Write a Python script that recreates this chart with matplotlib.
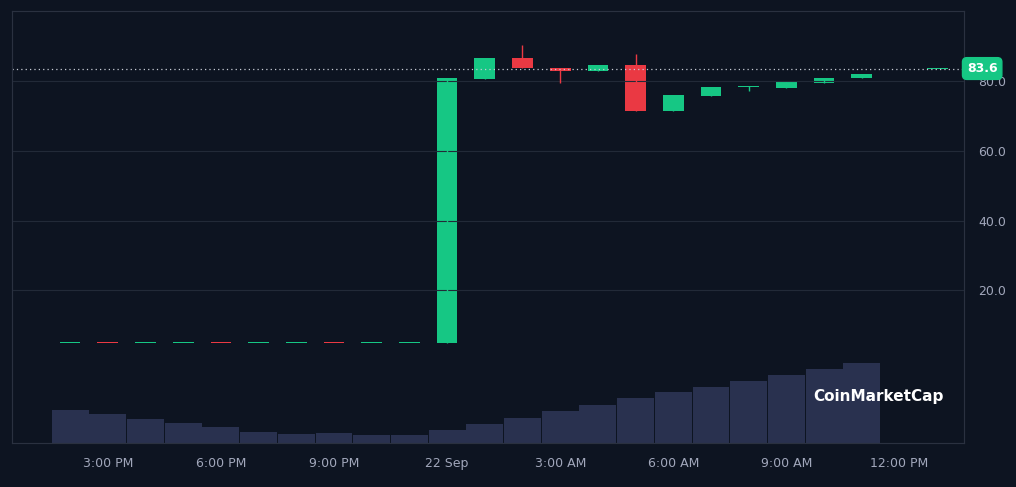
import matplotlib
matplotlib.use("Agg")
import matplotlib.pyplot as plt
import numpy as np

hours = [0,1,2,3,4,5,6,7,8,9,10,11,12,13,14,15,16,17,18,19,20,21,23]
opens  = [4.9,4.9,4.9,4.9,4.9,4.9,4.9,4.9,4.9,4.8,4.9,80.6,86.7,83.8,82.9,84.6,71.4,75.8,78.3,78.0,79.5,80.9,83.4]
closes = [4.9,4.9,4.9,4.9,4.9,4.9,4.9,4.9,4.9,5.0,80.9,86.7,83.8,82.9,84.6,71.4,76.0,78.3,78.4,79.8,80.9,82.1,83.6]
highs  = [4.9,4.9,4.9,4.9,4.9,4.9,4.9,4.9,4.9,5.0,80.9,86.7,90.4,83.8,84.6,87.8,76.0,78.3,78.6,79.8,80.9,82.1,83.6]
lows   = [4.9,4.9,4.9,4.9,4.9,4.9,4.9,4.9,4.9,4.8,4.9,80.6,83.8,79.5,82.9,71.4,71.4,75.8,77.2,78.0,79.5,80.9,83.4]
down   = [0,1,0,0,1,0,0,1,0,0,0,0,1,1,0,1,0,0,0,0,0,0,0]
vol_hours = list(range(22))
volumes = [33,29,24,20,16,11,9,10,8,8,13,19,25,32,38,45,51,56,62,68,74,80]
tick_pos = [1,4,7,10,13,16,19,22]
tick_labels = ["3:00 PM","6:00 PM","9:00 PM","22 Sep","3:00 AM","6:00 AM","9:00 AM","12:00 PM"]
last_price = 83.6

BG = "#0d1421"; GREEN = "#16c784"; RED = "#ea3943"; GRID = "#222a38"; TXT = "#a1a7bb"
fig = plt.figure(figsize=(10.16, 4.87), dpi=100, facecolor=BG)
ax = fig.add_axes([12/1016, 1-443/487, (964-12)/1016, (443-11)/487])
ax.set_facecolor(BG)
axv = ax.twinx()
axv.set_ylim(0, 432)
axv.set_yticks([])
axv.bar(vol_hours, volumes, width=0.98, color="#29314f", zorder=1)
axv.set_zorder(0); ax.set_zorder(1); ax.patch.set_visible(False)

for h, o, c, hi, lo, d in zip(hours, opens, closes, highs, lows, down):
    col = RED if d else GREEN
    ax.vlines(h, lo, hi, color=col, lw=1)
    bot = min(o, c); ht = max(abs(c - o), 0.35)
    ax.bar(h, ht, bottom=bot, width=0.55, color=col)

ax.set_ylim(-23.8, 100.1)
ax.set_xlim(-1.54, 23.71)
ax.set_yticks([20, 40, 60, 80])
ax.set_yticklabels(["20.0", "40.0", "60.0", "80.0"])
ax.yaxis.tick_right()
ax.grid(axis="y", color=GRID, lw=0.8)
ax.set_xticks(tick_pos)
ax.set_xticklabels(tick_labels)
ax.tick_params(colors=TXT, labelsize=9, length=0, pad=10)
for a in (ax, axv):
    for s in a.spines.values():
        s.set_color("#2a3140")
ax.spines["bottom"].set_color("#2a3140")
ax.axhline(last_price, color="#c8ccd6", lw=0.9, ls=(0, (1, 2.5)))
ax.text(1.0 + 0.003, last_price, f"{last_price}", transform=ax.get_yaxis_transform(),
        ha="left", va="center", color="white", fontsize=9, fontweight="bold",
        bbox=dict(boxstyle="round,pad=0.35", fc=GREEN, ec=GREEN))
fig.text(878/1016, 1-396/487, "CoinMarketCap", color="white", fontsize=11, fontweight="bold",
         ha="center", va="center")
fig.savefig("out.png", dpi=100, facecolor=BG)
